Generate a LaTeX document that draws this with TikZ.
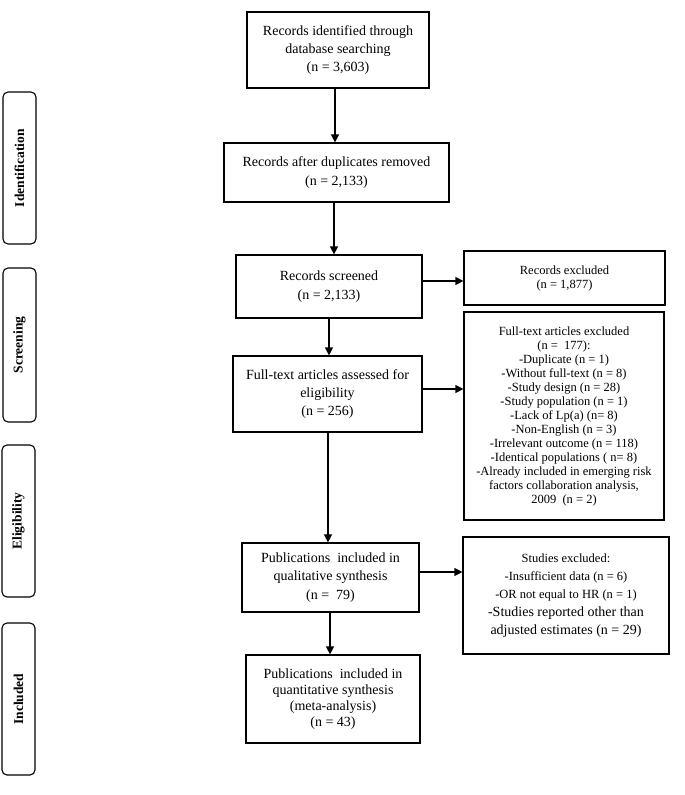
\documentclass[tikz,border=0pt]{standalone}
\usepackage{fontspec}
\setmainfont{Liberation Serif}
\usetikzlibrary{arrows.meta}
\begin{document}
\begin{tikzpicture}[x=1pt,y=-1pt,
  box/.style={draw, line width=1.2pt, inner sep=0pt, align=center, font=\fontsize{14}{18.3}\selectfont},
  sbox/.style={draw, line width=1.2pt, inner sep=0pt, align=center, font=\fontsize{12.5}{14}\selectfont},
  side/.style={draw, line width=1.1pt, rounded corners=5pt, inner sep=0pt, rotate=90, minimum height=33pt, font=\fontsize{13.5}{15}\selectfont\bfseries},
  arr/.style={line width=1.2pt, -{Triangle[length=8pt,width=8pt]}}]
\useasboundingbox (0,0) rectangle (685,795);
% main column
\node[box, minimum width=182pt, minimum height=76pt] (b1) at (338,50) {Records identified through\\database searching\\(n = 3,603)};
\node[box, minimum width=225pt, minimum height=59pt] (b2) at (336.5,172.5) {Records after duplicates removed\\(n = 2,133)};
\node[box, minimum width=186pt, minimum height=63pt] (b3) at (329,286.5) {Records screened\\(n = 2,133)};
\node[box, minimum width=189pt, minimum height=76pt] (b4) at (327.5,394) {Full-text articles assessed for\\eligibility\\(n = 256)};
\node[box, minimum width=177pt, minimum height=69pt] (b5) at (330.5,577.5) {Publications\ \ included in\\qualitative synthesis\\(n =\ \ 79)};
\node[box, minimum width=174pt, minimum height=88pt, font=\fontsize{14}{16}\selectfont] (b6) at (333,699) {Publications\ \ included in\\quantitative synthesis\\(meta-analysis)\\(n = 43)};
% exclusion column
\node[sbox, minimum width=201pt, minimum height=54pt] (e1) at (564.5,278) {Records excluded\\(n = 1,877)};
\node[sbox, minimum width=200pt, minimum height=208pt] (e2) at (564,416) {Full-text articles excluded\\(n =\ \ 177):\\-Duplicate (n = 1)\\-Without full-text (n = 8)\\-Study design (n = 28)\\-Study population (n = 1)\\-Lack of Lp(a) (n= 8)\\-Non-English (n = 3)\\-Irrelevant outcome (n = 118)\\-Identical populations ( n= 8)\\-Already included in emerging risk\\factors collaboration analysis,\\2009\ \ (n = 2)};
\node[sbox, minimum width=206pt, minimum height=117pt, font=\fontsize{12.5}{18}\selectfont] (e3) at (566,595.5) {Studies excluded:\\-Insufficient data (n = 6)\\-OR not equal to HR (n = 1)\\{\fontsize{14}{18}\selectfont -Studies reported other than}\\{\fontsize{14}{18}\selectfont adjusted estimates (n = 29)}};
% side labels
\node[side, minimum width=152pt] (s1) at (19.5,168) {Identification};
\node[side, minimum width=154pt] (s2) at (19.5,345) {Screening};
\node[side, minimum width=152pt] (s3) at (18.5,521) {Eligibility};
\node[side, minimum width=152pt] (s4) at (18.5,699) {Included};
% connectors
\draw[arr] (b1.south -| 335,0) -- (b2.north -| 335,0);
\draw[arr] (b2.south -| 334,0) -- (b3.north -| 334,0);
\draw[arr] (b3.south -| 329,0) -- (b4.north -| 329,0);
\draw[arr] (b4.south -| 328,0) -- (b5.north -| 328,0);
\draw[arr] (b5.south -| 330,0) -- (b6.north -| 330,0);
\draw[arr] (b3.east |- 0,281) -- (e1.west |- 0,281);
\draw[arr] (b4.east |- 0,389) -- (e2.west |- 0,389);
\draw[arr] (b5.east |- 0,572) -- (e3.west |- 0,572);
\end{tikzpicture}
\end{document}
